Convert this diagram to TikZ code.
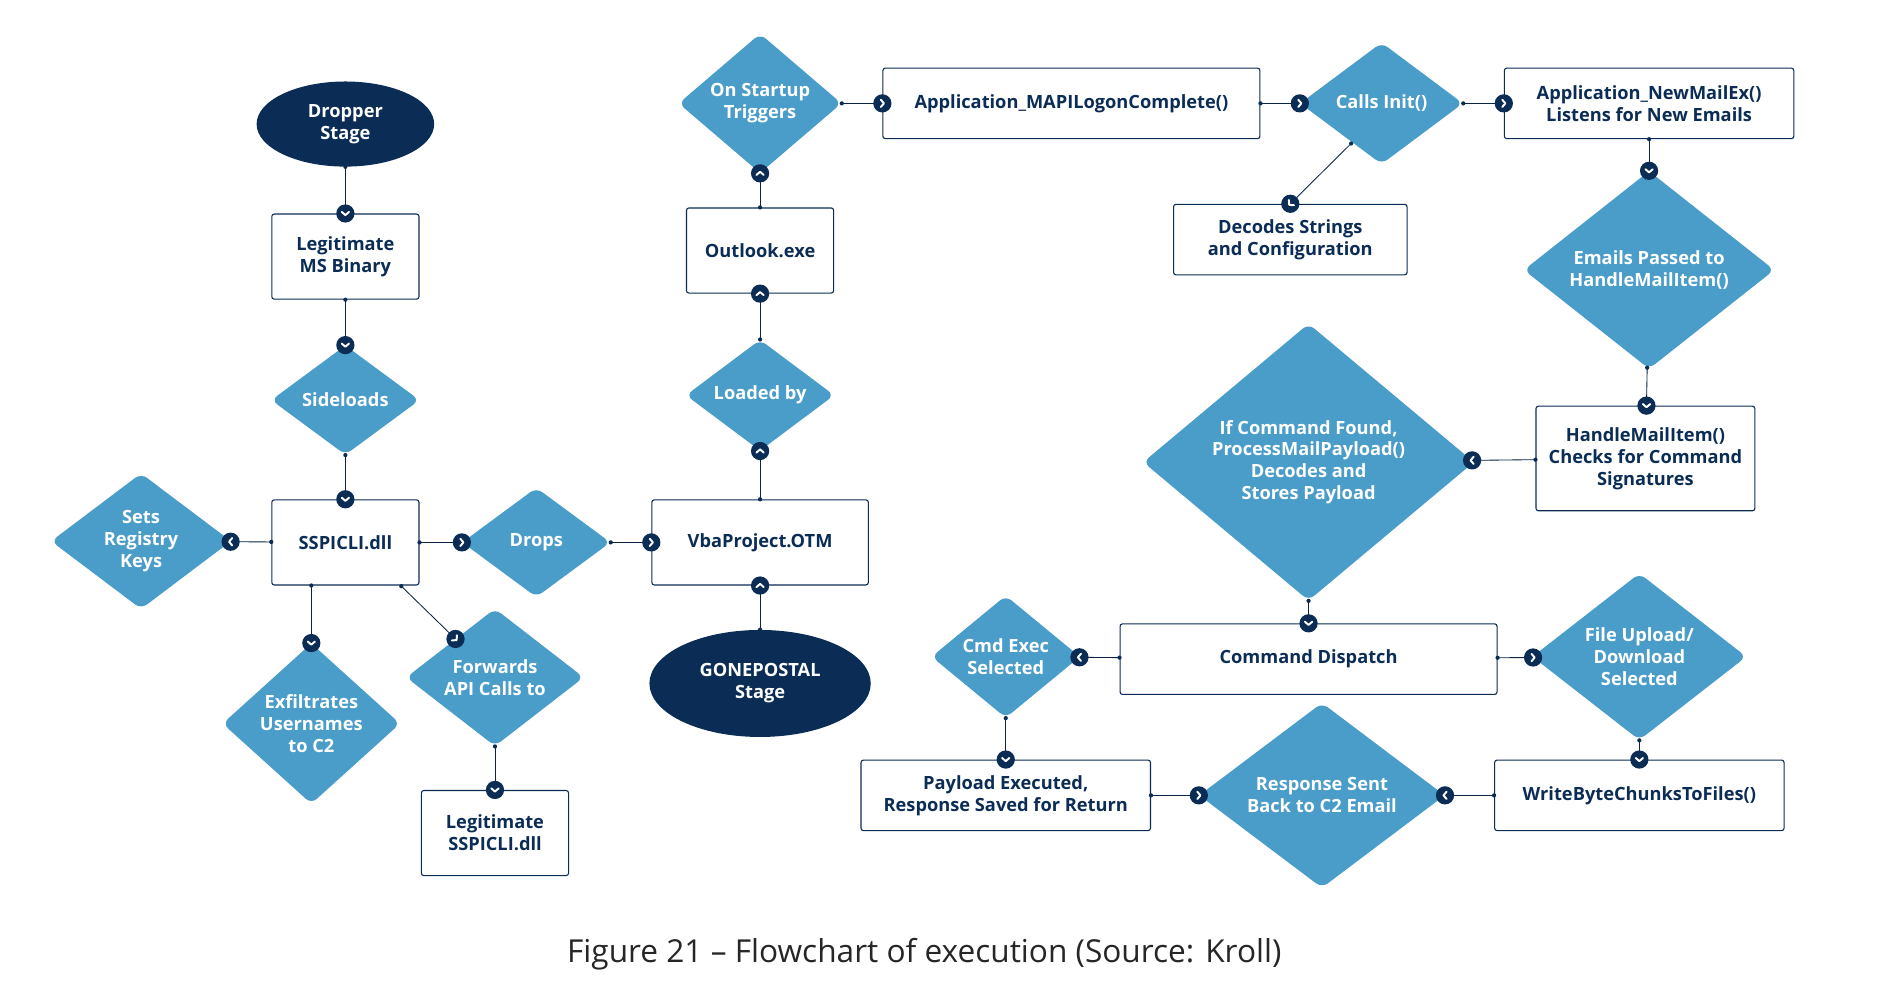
\documentclass[tikz,border=0pt]{standalone}
\usepackage{fontspec}
\setmainfont{Open Sans}
\usetikzlibrary{shapes.geometric}
\definecolor{navy}{HTML}{0B2D55}
\definecolor{kblue}{HTML}{4B9DC9}
\tikzset{
  box/.style={draw=navy, fill=white, rounded corners=2pt, line width=0.9pt, text=navy, align=center, font=\bfseries\fontsize{15}{18}\selectfont},
  dia/.style={diamond, fill=kblue, inner sep=0pt, text=white, align=center, font=\bfseries\fontsize{15}{18}\selectfont, rounded corners=6pt},
  ell/.style={ellipse, fill=navy, inner sep=0pt, text=white, align=center, font=\bfseries\fontsize{15}{18}\selectfont},
  conn/.style={draw=navy!80!black, line width=0.7pt},
  tipdot/.style={circle, fill=navy, inner sep=0pt, minimum size=15pt, sloped, allow upside down},
  startdot/.style={circle, fill=navy, inner sep=0pt, minimum size=3.5pt}
}
\newcommand\chev{\tikz\draw[white,line width=1.6pt,line cap=round,line join=round] (-1.3pt,3pt)--(1.3pt,0pt)--(-1.3pt,-3pt);}
\newcommand\flow[2]{\draw[conn] (#1) -- (#2) node[pos=0,startdot]{} node[pos=1,tipdot]{\chev};}
\begin{document}
\begin{tikzpicture}[x=1pt,y=-1pt]
\useasboundingbox (0,0) rectangle (1550,827);
% left branch
\node[ell, minimum width=146, minimum height=70] (dropper) at (284,102) {Dropper\\Stage};
\node[box, minimum width=121, minimum height=70] (msbin) at (284,211) {Legitimate\\MS Binary};
\node[dia, minimum width=122, minimum height=90] (side) at (284,329) {Sideloads};
\node[box, minimum width=121, minimum height=70] (sspi) at (284,446) {SSPICLI.dll};
\node[dia, minimum width=148, minimum height=110] (regkeys) at (116,445) {Sets\\Registry\\Keys};
\node[dia, minimum width=122, minimum height=90] (drops) at (441,446) {Drops};
\node[dia, minimum width=146, minimum height=106] (exfil) at (256,595) {Exfiltrates\\Usernames\\to C2};
\node[dia, minimum width=146, minimum height=110] (fwd) at (407,557) {Forwards\\API Calls to};
\node[box, minimum width=121, minimum height=70] (legssp) at (407,685) {Legitimate\\SSPICLI.dll};
% middle column
\node[box, minimum width=178, minimum height=70] (vba) at (625,446) {VbaProject.OTM};
\node[ell, minimum width=182, minimum height=88] (gone) at (625,562) {GONEPOSTAL\\Stage};
\node[dia, minimum width=122, minimum height=90] (loaded) at (625,325) {Loaded by};
\node[box, minimum width=121, minimum height=70] (outlook) at (625,206) {Outlook.exe};
\node[dia, minimum width=134, minimum height=100] (startup) at (625,85) {On Startup\\Triggers};
% top row
\node[box, minimum width=310, minimum height=58] (mapi) at (881,85) {Application\_MAPILogonComplete()};
\node[dia, minimum width=134, minimum height=100] (init) at (1136,85) {Calls Init()};
\node[box, minimum width=238, minimum height=58] (newmail) at (1356,85) {Application\_NewMailEx()\\Listens for New Emails};
\node[box, minimum width=192, minimum height=58] (decode) at (1061,197) {Decodes Strings\\and Configuration};
% right side
\node[dia, minimum width=206, minimum height=146] (passed) at (1356,222) {Emails Passed to\\HandleMailItem()};
\node[box, minimum width=180, minimum height=86] (handle) at (1353,377) {HandleMailItem()\\Checks for Command\\Signatures};
\node[dia, minimum width=272, minimum height=196] (found) at (1076,380) {If Command Found,\\ProcessMailPayload()\\Decodes and\\Stores Payload};
\node[box, minimum width=310, minimum height=58] (dispatch) at (1076,542) {Command Dispatch};
\node[dia, minimum width=122, minimum height=92] (cmdexec) at (827,540) {Cmd Exec\\Selected};
\node[dia, minimum width=176, minimum height=124] (fileup) at (1348,540) {File Upload/\\Download\\Selected};
\node[box, minimum width=238, minimum height=58] (payload) at (827,654) {Payload Executed,\\Response Saved for Return};
\node[box, minimum width=238, minimum height=58] (writeb) at (1348,654) {WriteByteChunksToFiles()};
\node[dia, minimum width=202, minimum height=146] (resp) at (1087,654) {Response Sent\\Back to C2 Email};
% caption
\node[font=\fontsize{26}{30}\selectfont, text=black!85] (cap) at (760,785) {Figure 21 -- Flowchart of execution (Source: Kroll)};
% connectors
\coordinate (sspifw) at (330,482);
\coordinate (initdec) at (1111,118);
\flow{dropper}{msbin}
\flow{msbin}{side}
\flow{side}{sspi}
\flow{sspi}{regkeys}
\flow{sspi}{drops}
\flow{drops}{vba}
\flow{sspi.south -| exfil.north}{exfil.north}
\flow{sspifw}{fwd}
\flow{fwd}{legssp}
\flow{gone}{vba}
\flow{vba}{loaded}
\flow{loaded}{outlook}
\flow{outlook}{startup}
\flow{startup}{mapi}
\flow{mapi}{init}
\flow{init}{newmail}
\flow{initdec}{decode.north}
\flow{newmail}{passed}
\flow{passed}{handle}
\flow{handle}{found}
\flow{found}{dispatch}
\flow{dispatch}{cmdexec}
\flow{dispatch}{fileup}
\flow{cmdexec}{payload}
\flow{fileup}{writeb}
\flow{payload}{resp}
\flow{writeb}{resp}
\end{tikzpicture}
\end{document}
